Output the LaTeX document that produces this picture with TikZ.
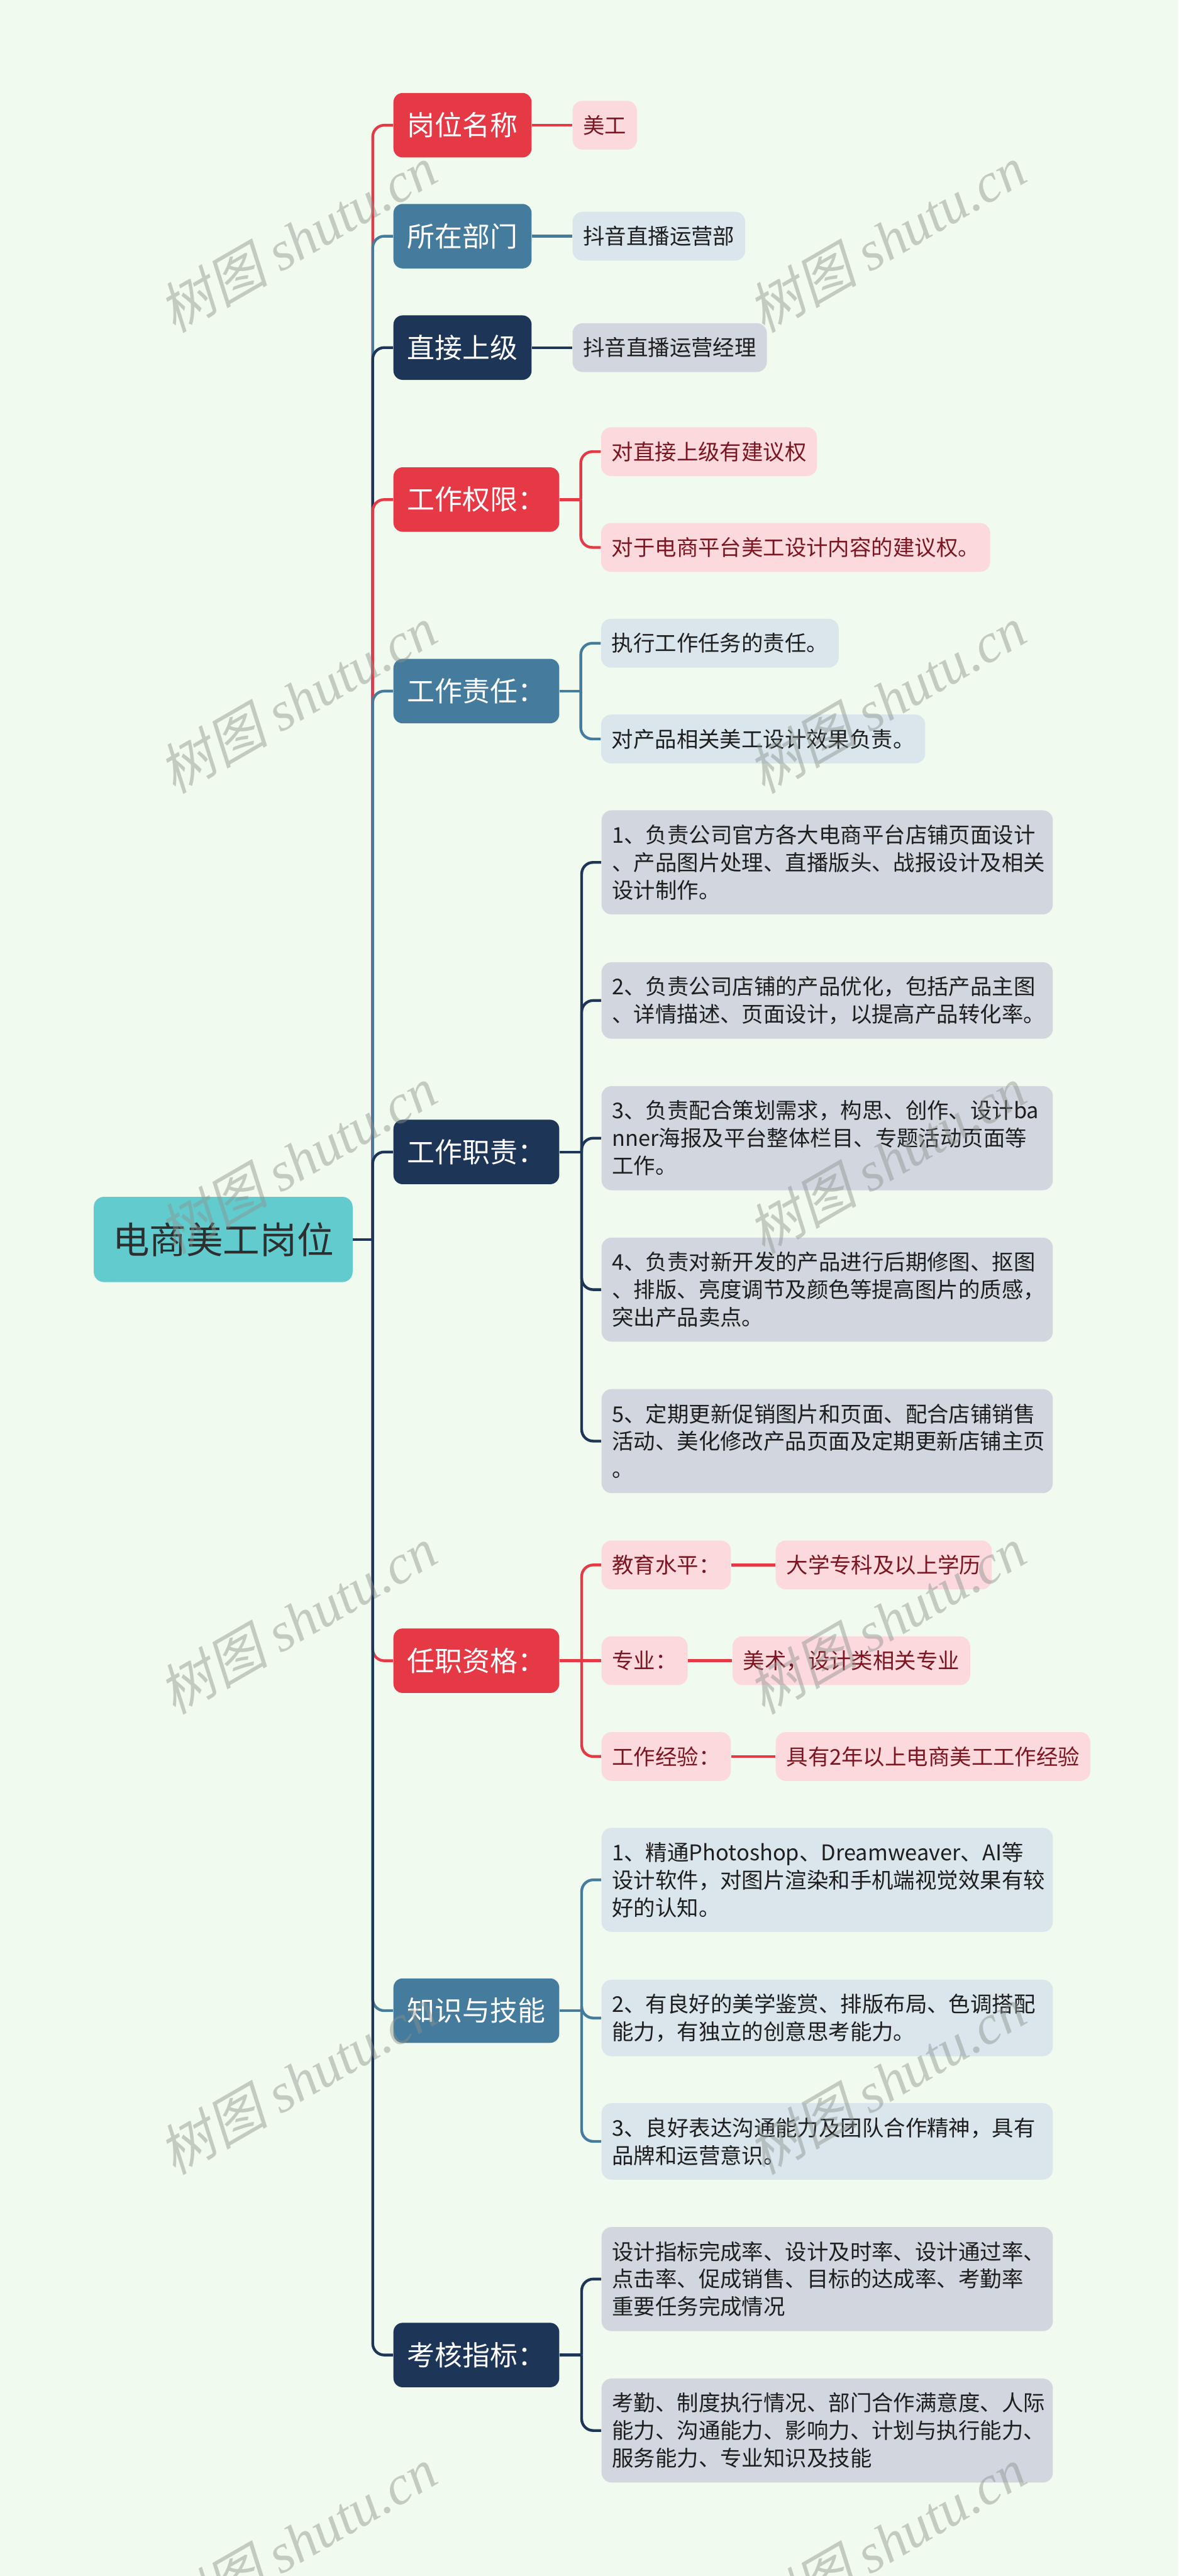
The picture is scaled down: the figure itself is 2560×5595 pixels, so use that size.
\documentclass[tikz,border=0pt]{standalone}
\usepackage{fontspec}
\setmainfont{Noto Sans CJK SC}
\newfontfamily\wmcjk[FakeSlant=0.22]{Noto Sans CJK SC}
\newfontfamily\wmlat{Liberation Serif}
\usetikzlibrary{calc}
\definecolor{bgc}{HTML}{F1FAEE}
\definecolor{rootc}{HTML}{62CBCE}
\definecolor{redc}{HTML}{E63946}
\definecolor{bluec}{HTML}{457B9D}
\definecolor{navyc}{HTML}{1D3557}
\definecolor{redl}{HTML}{FCD9DD}
\definecolor{bluel}{HTML}{DAE5EC}
\definecolor{navyl}{HTML}{D2D7DF}
\definecolor{redt}{HTML}{7A1621}
\definecolor{darkt}{HTML}{1E1E1E}
\definecolor{roott}{HTML}{2B2F2F}
\definecolor{wmc}{HTML}{8C928C}
\pgfdeclarelayer{bg}
\pgfsetlayers{bg,main}
\begin{document}
\begin{tikzpicture}[x=0.01cm,y=-0.01cm,
  rootbox/.style={fill=rootc, rounded corners=0.22cm, text=roott, font=\fontsize{22.76pt}{27pt}\selectfont, inner xsep=0.41cm, inner ysep=0pt, minimum height=1.85cm, anchor=west},
  topbox/.style={rounded corners=0.2cm, text=white, font=\fontsize{17.07pt}{21pt}\selectfont, inner xsep=0.3cm, inner ysep=0pt, minimum height=1.40cm, anchor=west},
  tr/.style={topbox, fill=redc}, tb/.style={topbox, fill=bluec}, tn/.style={topbox, fill=navyc},
  leaf/.style={rounded corners=0.22cm, font=\fontsize{13.37pt}{17.07pt}\selectfont, inner xsep=0.23cm, inner ysep=0pt, align=left, anchor=west},
  lr/.style={leaf, fill=redl, text=redt}, lb/.style={leaf, fill=bluel, text=darkt}, ln/.style={leaf, fill=navyl, text=darkt},
  one/.style={minimum height=1.06cm},
  two/.style={minimum height=1.66cm, text width=9.34cm},
  three/.style={minimum height=2.26cm, text width=9.34cm},
  link/.style={line width=1.7pt, rounded corners=0.25cm},
  wm/.style={text=wmc, text opacity=0.45, rotate=30, font=\fontsize{34pt}{34pt}\selectfont}
]
\useasboundingbox (0,0) rectangle (2560,5595);

% root
\node[rootbox] (r) at (203,2692) {电商美工岗位};

% level 1
\node[tr] (a1) at (854,272) {岗位名称};
\node[tb] (a2) at (854,513) {所在部门};
\node[tn] (a3) at (854,755) {直接上级};
\node[tr] (a4) at (854,1085) {工作权限：};
\node[tb] (a5) at (854,1501) {工作责任：};
\node[tn] (a6) at (854,2502) {工作职责：};
\node[tr] (a7) at (854,3607) {任职资格：};
\node[tb] (a8) at (854,4367) {知识与技能};
\node[tn] (a9) at (854,5115) {考核指标：};

% leaves
\node[lr,one] (a1l1) at (1243,272) {美工};
\node[lb,one] (a2l1) at (1243,513) {抖音直播运营部};
\node[ln,one] (a3l1) at (1243,755) {抖音直播运营经理};

\node[lr,one] (a4l1) at (1305,981) {对直接上级有建议权};
\node[lr,one] (a4l2) at (1305,1189) {对于电商平台美工设计内容的建议权。};

\node[lb,one] (a5l1) at (1305,1397) {执行工作任务的责任。};
\node[lb,one] (a5l2) at (1305,1605) {对产品相关美工设计效果负责。};

\node[ln,three] (a6l1) at (1306,1873) {1、负责公司官方各大电商平台店铺页面设计\\、产品图片处理、直播版头、战报设计及相关\\设计制作。};
\node[ln,two] (a6l2) at (1306,2173) {2、负责公司店铺的产品优化，包括产品主图\\、详情描述、页面设计，以提高产品转化率。};
\node[ln,three] (a6l3) at (1306,2472) {3、负责配合策划需求，构思、创作、设计ba\\nner海报及平台整体栏目、专题活动页面等\\工作。};
\node[ln,three] (a6l4) at (1306,2801) {4、负责对新开发的产品进行后期修图、抠图\\、排版、亮度调节及颜色等提高图片的质感，\\突出产品卖点。};
\node[ln,three] (a6l5) at (1306,3130) {5、定期更新促销图片和页面、配合店铺销售\\活动、美化修改产品页面及定期更新店铺主页\\。};

\node[lr,one] (a7l1) at (1306,3399) {教育水平：};
\node[lr,one] (a7l2) at (1306,3607) {专业：};
\node[lr,one] (a7l3) at (1306,3815) {工作经验：};
\node[lr,one] (a7m1) at ($(a7l1.east)+(96,0)$) {大学专科及以上学历};
\node[lr,one] (a7m2) at ($(a7l2.east)+(96,0)$) {美术，设计类相关专业};
\node[lr,one] (a7m3) at ($(a7l3.east)+(96,0)$) {具有2年以上电商美工工作经验};

\node[lb,three] (a8l1) at (1306,4083) {1、精通Photoshop、Dreamweaver、AI等\\设计软件，对图片渲染和手机端视觉效果有较\\好的认知。};
\node[lb,two] (a8l2) at (1306,4383) {2、有良好的美学鉴赏、排版布局、色调搭配\\能力，有独立的创意思考能力。};
\node[lb,two] (a8l3) at (1306,4651) {3、良好表达沟通能力及团队合作精神，具有\\品牌和运营意识。};

\node[ln,three] (a9l1) at (1306,4950) {设计指标完成率、设计及时率、设计通过率、\\点击率、促成销售、目标的达成率、考勤率\\重要任务完成情况};
\node[ln,three] (a9l2) at (1306,5279) {考勤、制度执行情况、部门合作满意度、人际\\能力、沟通能力、影响力、计划与执行能力、\\服务能力、专业知识及技能};

% junctions
\coordinate (rj) at ($(r.east)+(43,0)$);
\coordinate (j4) at ($(a4.east)+(46,0)$);
\coordinate (j5) at ($(a5.east)+(46,0)$);
\coordinate (j6) at ($(a6.east)+(48,0)$);
\coordinate (j7) at ($(a7.east)+(48,0)$);
\coordinate (j8) at ($(a8.east)+(48,0)$);
\coordinate (j9) at ($(a9.east)+(48,0)$);

\begin{pgfonlayer}{bg}
\fill[bgc] (0,0) rectangle (2560,5595);
% root branches
\draw[link,redc]  (rj) |- (a1.west);
\draw[link,bluec] (rj) |- (a2.west);
\draw[link,navyc] (rj) |- (a3.west);
\draw[link,redc]  (rj) |- (a4.west);
\draw[link,bluec] (rj) |- (a5.west);
\draw[link,navyc] (rj) |- (a6.west);
\draw[link,redc]  (rj) |- (a7.west);
\draw[link,bluec] (rj) |- (a8.west);
\draw[link,navyc] (rj) |- (a9.west);
\draw[link,navyc] (r.east) -- (rj);
% level 1 to leaves
\draw[link,redc]  (a1.east) -- (a1l1.west);
\draw[link,bluec] (a2.east) -- (a2l1.west);
\draw[link,navyc] (a3.east) -- (a3l1.west);
\draw[link,redc] (a4.east) -- (j4);
\draw[link,redc] (j4) |- (a4l1.west);
\draw[link,redc] (j4) |- (a4l2.west);
\draw[link,bluec] (a5.east) -- (j5);
\draw[link,bluec] (j5) |- (a5l1.west);
\draw[link,bluec] (j5) |- (a5l2.west);
\draw[link,navyc] (a6.east) -- (j6);
\draw[link,navyc] (j6) |- (a6l1.west);
\draw[link,navyc] (j6) |- (a6l2.west);
\draw[link,navyc] (j6) |- (a6l3.west);
\draw[link,navyc] (j6) |- (a6l4.west);
\draw[link,navyc] (j6) |- (a6l5.west);
\draw[link,redc] (a7.east) -- (j7);
\draw[link,redc] (j7) |- (a7l1.west);
\draw[link,redc] (j7) -- (a7l2.west);
\draw[link,redc] (j7) |- (a7l3.west);
\draw[link,redc] (a7l1.east) -- (a7m1.west);
\draw[link,redc] (a7l2.east) -- (a7m2.west);
\draw[link,redc] (a7l3.east) -- (a7m3.west);
\draw[link,bluec] (a8.east) -- (j8);
\draw[link,bluec] (j8) |- (a8l1.west);
\draw[link,bluec] (j8) |- (a8l2.west);
\draw[link,bluec] (j8) |- (a8l3.west);
\draw[link,navyc] (a9.east) -- (j9);
\draw[link,navyc] (j9) |- (a9l1.west);
\draw[link,navyc] (j9) |- (a9l2.west);
\end{pgfonlayer}

% watermarks
\begin{scope}
\clip (0,0) rectangle (2560,5595);
\foreach \k in {0,...,5}{
  \node[wm] (wma\k) at (646,{519+1000*\k}) {{\wmcjk 树图} {\wmlat\itshape shutu.cn}};
  \node[wm] (wmb\k) at (1926,{519+1000*\k}) {{\wmcjk 树图} {\wmlat\itshape shutu.cn}};
}
\end{scope}
\end{tikzpicture}
\end{document}
